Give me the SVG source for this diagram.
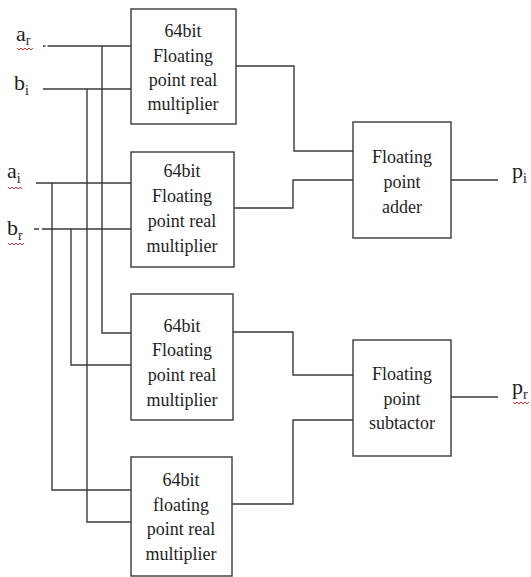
<svg xmlns="http://www.w3.org/2000/svg" width="531" height="577" viewBox="0 0 531 577">
<style>
.box{fill:#fff;stroke:#3a3a3a;stroke-width:1.4}
.w{fill:none;stroke:#3a3a3a;stroke-width:1.4}
.t{font-family:'Liberation Serif','Times New Roman',serif;font-size:18px;fill:#1e1e1e;text-anchor:middle}
.l{font-family:'Liberation Serif','Times New Roman',serif;font-size:22px;fill:#1e1e1e}
.s{font-size:14px}
.sq{fill:none;stroke:#e03030;stroke-width:1}
</style>
<rect width="531" height="577" fill="#fff"/>
<g id="connectors">
<path class="w" d="M43 46H45.5M47.5 46H131M102 46V333H131"/>
<path class="w" d="M43 89H131M87 89V522H131"/>
<path class="w" d="M36 183H131M52 183V490H131"/>
<path class="w" d="M34 229H39M42 229H131M71 229V365H131"/>
<path class="w" d="M236 66H294V151H353"/>
<path class="w" d="M234 208H293V180H353"/>
<path class="w" d="M451 180H498"/>
<path class="w" d="M233 332H293V375H353"/>
<path class="w" d="M232 504H293V420H353"/>
<path class="w" d="M451 397H498"/>
</g>
<g id="mult1">
<rect class="box" x="131" y="9" width="105" height="115"/>
<text class="t" x="183" y="37">64bit</text>
<text class="t" x="183" y="62">Floating</text>
<text class="t" x="183" y="86">point real</text>
<text class="t" x="183" y="110">multiplier</text>
</g>
<g id="mult2">
<rect class="box" x="131" y="152" width="103" height="115"/>
<text class="t" x="182" y="177">64bit</text>
<text class="t" x="182" y="202">Floating</text>
<text class="t" x="182" y="227">point real</text>
<text class="t" x="182" y="252">multiplier</text>
</g>
<g id="mult3">
<rect class="box" x="131" y="294" width="102" height="126"/>
<text class="t" x="182" y="332">64bit</text>
<text class="t" x="182" y="356">Floating</text>
<text class="t" x="182" y="381">point real</text>
<text class="t" x="182" y="406">multiplier</text>
</g>
<g id="mult4">
<rect class="box" x="131" y="457" width="101" height="119"/>
<text class="t" x="181" y="486">64bit</text>
<text class="t" x="181" y="511">floating</text>
<text class="t" x="181" y="535">point real</text>
<text class="t" x="181" y="560">multiplier</text>
</g>
<g id="adder">
<rect class="box" x="353" y="122" width="98" height="116"/>
<text class="t" x="402" y="163">Floating</text>
<text class="t" x="402" y="188">point</text>
<text class="t" x="402" y="213">adder</text>
</g>
<g id="subtractor">
<rect class="box" x="353" y="340" width="98" height="116"/>
<text class="t" x="402" y="380">Floating</text>
<text class="t" x="402" y="405">point</text>
<text class="t" x="402" y="429">subtactor</text>
</g>
<g id="labels">
<text class="l" x="16" y="41">a<tspan class="s" dy="4">r</tspan></text>
<text class="l" x="14" y="90">b<tspan class="s" dy="5">i</tspan></text>
<text class="l" x="7" y="178">a<tspan class="s" dy="5">i</tspan></text>
<text class="l" x="7" y="235">b<tspan class="s" dy="5">r</tspan></text>
<text class="l" x="512" y="178">p<tspan class="s" dy="5">i</tspan></text>
<text class="l" x="512" y="394">p<tspan class="s" dy="5">r</tspan></text>
<path class="sq" d="M17 48l2 2 2-2 2 2 2-2 2 2 2-2 2 2 2-2"/>
<path class="sq" d="M8 187l2 2 2-2 2 2 2-2 2 2 2-2 2 2"/>
<path class="sq" d="M8 243l2 2 2-2 2 2 2-2 2 2 2-2 2 2 2-2"/>
<path class="sq" d="M513 402l2 2 2-2 2 2 2-2 2 2 2-2 2 2 2-2"/>
</g>
</svg>
